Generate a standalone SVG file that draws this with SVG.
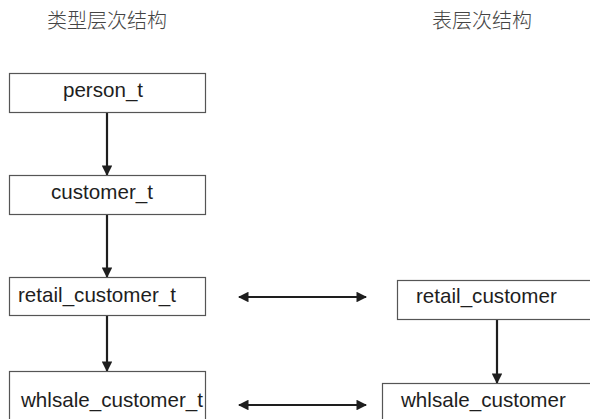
<svg xmlns="http://www.w3.org/2000/svg" width="590" height="419" viewBox="0 0 590 419">
  <style>
    .box { fill: #ffffff; stroke: #555555; stroke-width: 1.2; }
    .lbl { font-family: "Liberation Sans", Arial, sans-serif; font-size: 20.6px; fill: #1e1e1e; }
    .title { font-family: "Noto Sans CJK SC", sans-serif; font-size: 20px; fill: #444444; font-weight: 300; }
    .edge { stroke: #1e1e1e; stroke-width: 2.2; fill: none; }
  </style>
  <defs>
    <marker id="head" viewBox="0 0 10 10" refX="9" refY="5" markerWidth="4.8" markerHeight="4.8" orient="auto-start-reverse" markerUnits="strokeWidth">
      <path d="M0,0 L10,5 L0,10 Z" fill="#1e1e1e"/>
    </marker>
  </defs>
  <rect width="590" height="419" fill="#ffffff"/>

  <text class="title" x="47" y="28">类型层次结构</text>
  <text class="title" x="432" y="28">表层次结构</text>

  <g id="connectors">
    <line class="edge" x1="107" y1="113" x2="107" y2="175" marker-end="url(#head)"/>
    <line class="edge" x1="107" y1="215" x2="107" y2="277" marker-end="url(#head)"/>
    <line class="edge" x1="107" y1="316" x2="107" y2="371" marker-end="url(#head)"/>
    <line class="edge" x1="497" y1="320" x2="497" y2="383" marker-end="url(#head)"/>
    <line class="edge" x1="239" y1="297" x2="366" y2="297" marker-start="url(#head)" marker-end="url(#head)"/>
    <line class="edge" x1="239" y1="405" x2="366" y2="405" marker-start="url(#head)" marker-end="url(#head)"/>
  </g>

  <g id="person_t">
    <rect class="box" x="9.5" y="73.5" width="196" height="39"/>
    <text class="lbl" x="103" y="97" text-anchor="middle">person_t</text>
  </g>
  <g id="customer_t">
    <rect class="box" x="9.5" y="175.5" width="196" height="39"/>
    <text class="lbl" x="102" y="199" text-anchor="middle">customer_t</text>
  </g>
  <g id="retail_customer_t">
    <rect class="box" x="9.5" y="277.5" width="196" height="38"/>
    <text class="lbl" x="18" y="302">retail_customer_t</text>
  </g>
  <g id="whlsale_customer_t">
    <rect class="box" x="9.5" y="371.5" width="196" height="60"/>
    <text class="lbl" x="21" y="407">whlsale_customer_t</text>
  </g>
  <g id="retail_customer">
    <rect class="box" x="397.5" y="280.5" width="210" height="39"/>
    <text class="lbl" x="416" y="303">retail_customer</text>
  </g>
  <g id="whlsale_customer">
    <rect class="box" x="382.5" y="383.5" width="225" height="50"/>
    <text class="lbl" x="401" y="407">whlsale_customer</text>
  </g>
</svg>
